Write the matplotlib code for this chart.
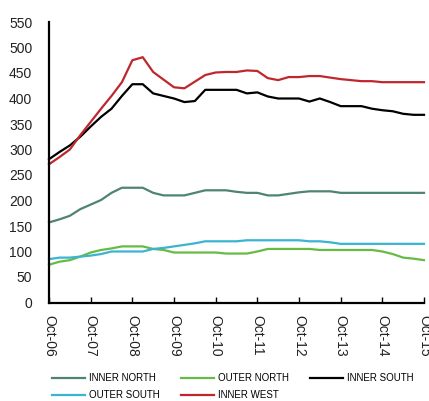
import matplotlib.pyplot as plt
import numpy as np

plt.rcParams['font.family'] = ['Liberation Sans', 'DejaVu Sans']

## quarterly values, Oct-06 .. Oct-15
inner_north = [157, 163, 170, 183, 192, 201, 215, 225, 225, 225, 215, 210, 210,
               210, 215, 220, 220, 220, 217, 215, 215, 210, 210, 213, 216, 218,
               218, 218, 215, 215, 215, 215, 215, 215, 215, 215, 215]
outer_north = [74, 80, 83, 90, 98, 103, 106, 110, 110, 110, 105, 103, 98,
               98, 98, 98, 98, 96, 96, 96, 100, 105, 105, 105, 105, 105,
               103, 103, 103, 103, 103, 103, 100, 95, 88, 86, 83]
inner_south = [281, 295, 308, 325, 345, 364, 380, 405, 428, 428, 410, 405, 400,
               393, 395, 417, 417, 417, 417, 410, 412, 404, 400, 400, 400, 394,
               400, 393, 385, 385, 385, 380, 377, 375, 370, 368, 368]
outer_south = [85, 88, 88, 90, 92, 95, 100, 100, 100, 100, 105, 107, 110,
               113, 116, 120, 120, 120, 120, 122, 122, 122, 122, 122, 122, 120,
               120, 118, 115, 115, 115, 115, 115, 115, 115, 115, 115]
inner_west = [271, 285, 300, 328, 354, 380, 405, 432, 475, 481, 452, 437, 422,
              420, 433, 446, 451, 452, 452, 455, 454, 440, 436, 442, 442, 444,
              444, 441, 438, 436, 434, 434, 432, 432, 432, 432, 432]
years = ['Oct-06', 'Oct-07', 'Oct-08', 'Oct-09', 'Oct-10', 'Oct-11', 'Oct-12', 'Oct-13', 'Oct-14', 'Oct-15']

series = [('INNER NORTH', inner_north, '#4f8470'),
          ('OUTER NORTH', outer_north, '#66bb44'),
          ('INNER SOUTH', inner_south, '#000000'),
          ('OUTER SOUTH', outer_south, '#3ab4d0'),
          ('INNER WEST', inner_west, '#c0272d')]

fig = plt.figure(figsize=(4.29, 4.01), dpi=100)
ax = fig.add_axes([49/429, 98.5/401, 375/429, 280.5/401])

x = np.arange(len(inner_north))
lines = []
for name, vals, col in series:
    l, = ax.plot(x, vals, color=col, lw=1.6, label=name, clip_on=False)
    lines.append(l)

ax.set_xlim(0, 36)
ax.set_ylim(0, 550)
ax.set_yticks(range(0, 551, 50))
ax.set_xticks(range(0, 37, 4))
ax.set_xticklabels(years, rotation=-90, fontsize=10, color='#222222')
ax.tick_params(axis='x', direction='in', length=4, width=1, pad=9)
ax.tick_params(axis='y', length=0, pad=12, labelsize=10, labelcolor='#222222')
for s in ['top', 'right']:
    ax.spines[s].set_visible(False)
for s in ['left', 'bottom']:
    ax.spines[s].set_linewidth(1.6)

# legend fills by column, so reorder to read row by row
order = [0, 3, 1, 4, 2]
fig.legend([lines[i] for i in order], [series[i][0] for i in order],
           loc='upper left', bbox_to_anchor=(52/429, 1 - 373/401), ncol=3,
           frameon=False, fontsize=7, handlelength=3.4, handletextpad=0.4,
           columnspacing=2.2, labelspacing=0.75, borderpad=0, borderaxespad=0)

fig.savefig('out.png', dpi=100)
